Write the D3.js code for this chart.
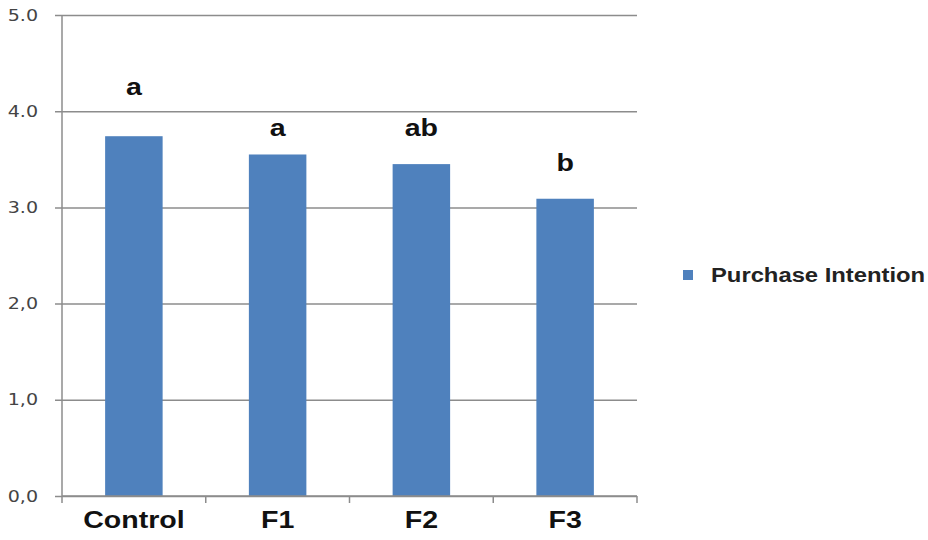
<!DOCTYPE html>
<html>
<head>
<meta charset="utf-8">
<script src="https://cdn.jsdelivr.net/npm/d3@7"></script>
<style>
  html, body { margin: 0; padding: 0; background: #fff; }
  svg { display: block; }
</style>
</head>
<body>
<svg id="chart" width="928" height="540"></svg>
<script>
// Mean purchase intention per formulation, with significance letters
const categories = ["Control", "F1", "F2", "F3"];
const values = [3.74, 3.55, 3.45, 3.09];
const letters = ["a", "a", "ab", "b"];
const yTicks = [0, 1, 2, 3, 4, 5];
const yTickLabels = ["0,0", "1,0", "2,0", "3.0", "4.0", "5.0"];
const seriesName = "Purchase Intention";

// pixel lift of each significance letter above its bar
const letterLift = [50, 27, 37, 36];

const svg = d3.select("#chart");
const plotLeft = 62, plotRight = 637, plotTop = 15, plotBottom = 496;
const barColor = "#4f81bd";
const gridColor = "#8c8c8c";
// all labels are set slightly wide
const stretch = 1.19;
const wide = (px) => `translate(${px},0) scale(${stretch},1) translate(${-px},0)`;

const x = d3.scaleBand()
  .domain(categories)
  .range([plotLeft, plotRight])
  .paddingInner(0.6)
  .paddingOuter(0.3);

const y = d3.scaleLinear().domain([0, 5]).range([plotBottom, plotTop]);

// horizontal gridlines + y axis labels
const yAxis = d3.axisLeft(y)
  .tickValues(yTicks)
  .tickFormat((d, i) => yTickLabels[i])
  .tickSizeInner(-(plotRight - plotLeft))
  .tickSizeOuter(0)
  .tickPadding(24);

const gy = svg.append("g")
  .attr("transform", `translate(${plotLeft},0)`)
  .call(yAxis);
gy.select(".domain").remove();
gy.selectAll(".tick line")
  .attr("x1", -7)
  .attr("stroke", gridColor)
  .attr("stroke-width", 1.5);
gy.selectAll(".tick text")
  .attr("fill", "#444")
  .attr("font-family", "DejaVu Sans, sans-serif")
  .attr("font-size", 16)
  .attr("transform", wide(-24));

// vertical axis line
svg.append("line")
  .attr("x1", plotLeft).attr("x2", plotLeft)
  .attr("y1", plotTop).attr("y2", plotBottom)
  .attr("stroke", gridColor)
  .attr("stroke-width", 1.5);

// bars
svg.append("g").selectAll("rect")
  .data(categories)
  .join("rect")
  .attr("x", d => x(d))
  .attr("width", x.bandwidth())
  .attr("y", (d, i) => y(values[i]))
  .attr("height", (d, i) => y(0) - y(values[i]))
  .attr("fill", barColor);

// category axis with ticks between groups
const step = x.step();
const xAxis = d3.axisBottom(x).tickSize(0).tickPadding(15);
const gx = svg.append("g")
  .attr("transform", `translate(0,${plotBottom})`)
  .call(xAxis);
gx.select(".domain")
  .attr("stroke", gridColor)
  .attr("stroke-width", 1.5)
  .attr("d", `M${plotLeft},0H${plotRight}`);
gx.selectAll(".tick text")
  .attr("fill", "#111")
  .attr("font-family", "Liberation Sans, Arial, sans-serif")
  .attr("font-weight", "bold")
  .attr("font-size", 24)
  .attr("dy", "0.71em")
  .attr("transform", wide(0));
gx.selectAll(".cat-tick")
  .data(d3.range(categories.length + 1))
  .join("line")
  .attr("class", "cat-tick")
  .attr("x1", i => plotLeft + i * step)
  .attr("x2", i => plotLeft + i * step)
  .attr("y1", 0).attr("y2", 7)
  .attr("stroke", gridColor)
  .attr("stroke-width", 1.5);

// significance letters
svg.append("g").selectAll("text")
  .data(categories)
  .join("text")
  .attr("x", d => x(d) + x.bandwidth() / 2)
  .attr("y", (d, i) => y(values[i]) - letterLift[i])
  .attr("text-anchor", "middle")
  .attr("dy", "0.35em")
  .attr("font-family", "Liberation Sans, Arial, sans-serif")
  .attr("font-weight", "bold")
  .attr("font-size", 24)
  .attr("fill", "#111")
  .attr("transform", d => wide(x(d) + x.bandwidth() / 2))
  .text((d, i) => letters[i]);

// legend
const lg = svg.append("g").attr("transform", "translate(683,270)");
lg.append("rect").attr("width", 10).attr("height", 10).attr("fill", barColor);
lg.append("text")
  .attr("x", 28).attr("y", 5)
  .attr("dy", "0.35em")
  .attr("font-family", "Liberation Sans, Arial, sans-serif")
  .attr("font-weight", "bold")
  .attr("font-size", 20)
  .attr("fill", "#222")
  .attr("transform", wide(28))
  .text(seriesName);
</script>
</body>
</html>
